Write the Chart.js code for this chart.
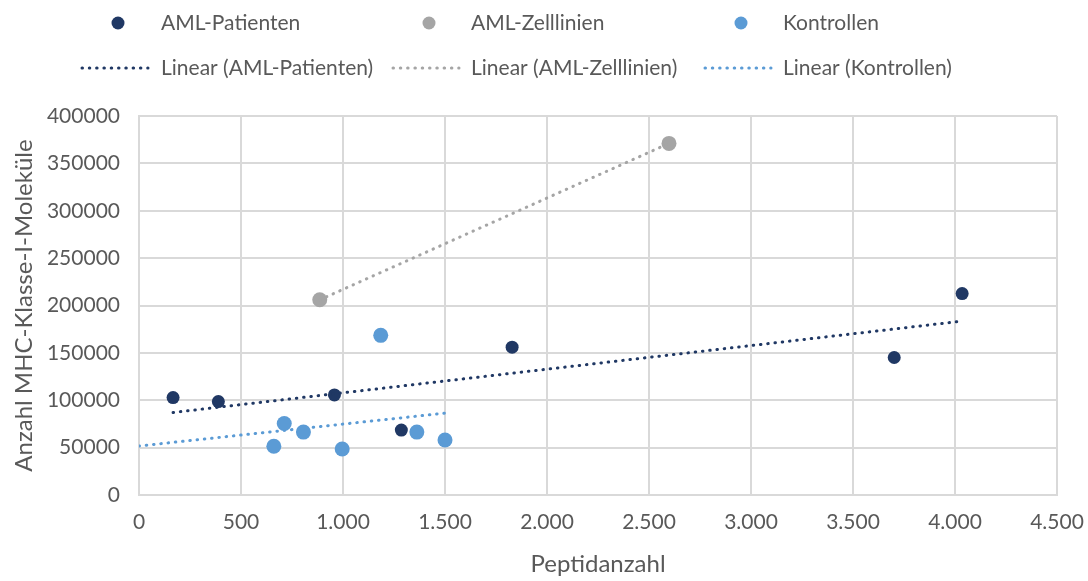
<!DOCTYPE html>
<html>
<head>
<meta charset="utf-8">
<script src="https://cdn.jsdelivr.net/npm/chart.js@4/dist/chart.umd.min.js"></script>
<style>
  html, body { margin: 0; padding: 0; background: #ffffff; }
  #wrap { width: 1088px; height: 581px; }
</style>
</head>
<body>
<div id="wrap"><canvas id="c" width="1088" height="581"></canvas></div>
<script>
// ---- Data ----
const seriesNames = ['AML-Patienten', 'AML-Zelllinien', 'Kontrollen'];
const trendNames = ['Linear (AML-Patienten)', 'Linear (AML-Zelllinien)', 'Linear (Kontrollen)'];

const patX = [167, 389, 958, 1286, 1829, 3702, 4035];
const patY = [102800, 98600, 105600, 68500, 156000, 145100, 212600];

const zellX = [886, 2598];
const zellY = [206000, 371100];

const kontX = [661, 712, 806, 996, 1185, 1362, 1500];
const kontY = [51400, 75500, 66400, 48600, 168500, 66400, 58000];

// trendline end points (as drawn in the reference)
const trendPatX = [167, 4035];
const trendPatY = [87100, 183500];
const trendZellX = [886, 2598];
const trendZellY = [206000, 371100];
const trendKontX = [0, 1500];
const trendKontY = [51700, 86400];

const xTicksMin = 0, xTicksMax = 4500, xStep = 500;
const yTicksMin = 0, yTicksMax = 400000, yStep = 50000;

const xTitle = 'Peptidanzahl';
const yTitle = 'Anzahl MHC-Klasse-I-Moleküle';

// ---- Styles ----
const colors = ['#203864', '#A5A5A5', '#5B9BD5'];
const textColor = '#595959';
const gridColor = '#D9D9D9';
const FONT = 'Lato, "Liberation Sans", sans-serif';

function pts(xs, ys) { return xs.map((x, i) => ({ x: x, y: ys[i] })); }
function de(v) { return String(v).replace(/\B(?=(\d{3})+(?!\d))/g, '.'); }

const scatterDs = (label, data, color, r) => ({
  label, data,
  backgroundColor: color, borderColor: color,
  pointRadius: r, pointHoverRadius: r, borderWidth: 0,
  showLine: false, order: 1
});
const trendDs = (label, data, color) => ({
  label, data,
  borderColor: color, backgroundColor: color,
  showLine: true, pointRadius: 0, pointHoverRadius: 0,
  borderWidth: 3, borderDash: [0.5, 6.8], borderCapStyle: 'round',
  fill: false, tension: 0, order: 0
});

const datasets = [
  scatterDs(seriesNames[0], pts(patX, patY), colors[0], 6.5),
  scatterDs(seriesNames[1], pts(zellX, zellY), colors[1], 7.5),
  scatterDs(seriesNames[2], pts(kontX, kontY), colors[2], 7.5),
  trendDs(trendNames[0], pts(trendPatX, trendPatY), colors[0]),
  trendDs(trendNames[1], pts(trendZellX, trendZellY), colors[1]),
  trendDs(trendNames[2], pts(trendKontX, trendKontY), colors[2])
];

// ---- Custom legend laid out as in the reference (3 columns x 2 rows) ----
const legendPlugin = {
  id: 'gridLegend',
  afterDraw(chart) {
    const ctx = chart.ctx;
    const ds = chart.data.datasets;
    const lineX = [82, 393, 705];
    const lineLen = 66;
    const textX = [161, 471, 783];
    const rowY = [23, 68];
    ctx.save();
    ctx.font = '21px ' + FONT;
    ctx.fillStyle = textColor;
    ctx.textBaseline = 'middle';
    ctx.textAlign = 'left';
    for (let i = 0; i < 3; i++) {
      const s = ds[i];
      ctx.beginPath();
      ctx.fillStyle = s.backgroundColor;
      ctx.arc(lineX[i] + lineLen / 2 + 3, rowY[0], 6.5, 0, Math.PI * 2);
      ctx.fill();
      ctx.fillStyle = textColor;
      ctx.fillText(s.label, textX[i], rowY[0]);
      const t = ds[i + 3];
      ctx.beginPath();
      ctx.strokeStyle = t.borderColor;
      ctx.lineWidth = t.borderWidth;
      ctx.lineCap = 'round';
      ctx.setLineDash(t.borderDash);
      ctx.moveTo(lineX[i], rowY[1]);
      ctx.lineTo(lineX[i] + lineLen, rowY[1]);
      ctx.stroke();
      ctx.setLineDash([]);
      ctx.fillText(t.label, textX[i], rowY[1]);
    }
    ctx.restore();
  }
};

new Chart(document.getElementById('c'), {
  type: 'scatter',
  data: { datasets },
  options: {
    responsive: false,
    animation: false,
    events: [],
    layout: { padding: { left: 0, right: 31, top: 116, bottom: 0 } },
    plugins: { legend: { display: false }, tooltip: { enabled: false }, title: { display: false } },
    scales: {
      x: {
        type: 'linear', min: xTicksMin, max: xTicksMax,
        afterFit(scale) { scale.height = 86; scale.paddingLeft = 0; scale.paddingRight = 0; },
        grid: { color: gridColor, lineWidth: 2, drawTicks: false },
        border: { color: gridColor, width: 2 },
        ticks: {
          stepSize: xStep, color: textColor, padding: 15,
          font: { family: FONT, size: 21 },
          callback: (v) => de(v), maxRotation: 0
        },
        title: {
          display: true, text: xTitle, color: textColor,
          font: { family: FONT, size: 24 }, padding: { top: 0, bottom: 2 }
        }
      },
      y: {
        type: 'linear', min: yTicksMin, max: yTicksMax,
        afterFit(scale) { scale.width = 139; scale.paddingTop = 0; scale.paddingBottom = 0; },
        grid: { color: gridColor, lineWidth: 2, drawTicks: false },
        border: { color: gridColor, width: 2 },
        ticks: {
          stepSize: yStep, color: textColor, padding: 19,
          font: { family: FONT, size: 21 },
          callback: (v) => String(v)
        },
        title: {
          display: true, text: yTitle, color: textColor,
          font: { family: FONT, size: 24 }, padding: { top: 10, bottom: 0 }
        }
      }
    }
  },
  plugins: [legendPlugin]
});
</script>
</body>
</html>
